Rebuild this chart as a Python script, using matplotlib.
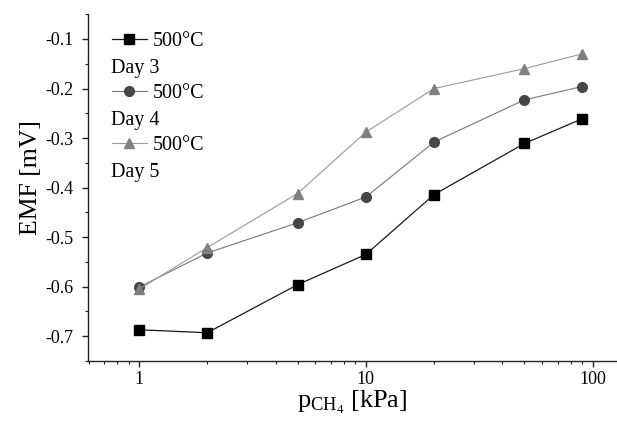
import matplotlib
matplotlib.use('Agg')
import matplotlib.pyplot as plt
from matplotlib.ticker import FixedLocator, FixedFormatter, LogLocator, NullFormatter, MultipleLocator

plt.rcParams['font.family'] = ['Liberation Serif', 'DejaVu Serif']
plt.rcParams['mathtext.fontset'] = 'custom'
plt.rcParams['mathtext.rm'] = 'Liberation Serif'
plt.rcParams['mathtext.it'] = 'Liberation Serif:italic'
plt.rcParams['axes.unicode_minus'] = False

# CH4 partial pressure [kPa]
p_ch4 = [1, 2, 5, 10, 20, 50, 90]

# EMF [mV] at 500 C on three days
emf_day3 = [-0.687, -0.693, -0.596, -0.535, -0.414, -0.311, -0.261]
emf_day4 = [-0.601, -0.532, -0.471, -0.419, -0.308, -0.223, -0.196]
emf_day5 = [-0.605, -0.521, -0.412, -0.288, -0.200, -0.160, -0.130]

labels = ['500°C', '500°C', '500°C']
days = ['Day 3', 'Day 4', 'Day 5']

fig = plt.figure(figsize=(6.17, 4.30), dpi=100)
ax = fig.add_axes([0.1426, 0.1605, 0.8574, 0.8065])

l1, = ax.plot(p_ch4, emf_day3, '-', color='#1a1a1a', lw=0.9, marker='s', ms=6.5,
              mfc='black', mec='black', label=labels[0])
l2, = ax.plot(p_ch4, emf_day4, '-', color='#777777', lw=0.8, marker='o', ms=7,
              mfc='#474747', mec='#474747', label=labels[1])
l3, = ax.plot(p_ch4, emf_day5, '-', color='#9a9a9a', lw=0.8, marker='^', ms=7.5,
              mfc='#808080', mec='#808080', label=labels[2])

ax.set_xscale('log')
ax.set_xlim(0.596, 128)
ax.set_ylim(-0.75, -0.05)

ax.xaxis.set_major_locator(FixedLocator([1, 10, 100]))
ax.xaxis.set_major_formatter(FixedFormatter(['1', '10', '100']))
ax.xaxis.set_minor_locator(LogLocator(base=10, subs=range(2, 10)))
ax.xaxis.set_minor_formatter(NullFormatter())
ax.yaxis.set_major_locator(FixedLocator([-0.7, -0.6, -0.5, -0.4, -0.3, -0.2, -0.1]))
ax.yaxis.set_major_formatter(FixedFormatter(['-0.7', '-0.6', '-0.5', '-0.4', '-0.3', '-0.2', '-0.1']))
ax.yaxis.set_minor_locator(MultipleLocator(0.05))

for s in ['top', 'right']:
    ax.spines[s].set_visible(False)
for s in ['left', 'bottom']:
    ax.spines[s].set_linewidth(1.0)
    ax.spines[s].set_color('#222222')

ax.tick_params(which='major', direction='out', length=4.5, width=1.0, labelsize=13, color='#222222')
ax.tick_params(axis='y', which='major', pad=6)
ax.tick_params(axis='x', which='major', pad=3)
ax.tick_params(which='minor', direction='out', length=2.5, width=0.8, color='#222222')

ax.set_ylabel('EMF [mV]', fontsize=18.5)
ax.yaxis.set_label_coords(-0.086, 0.53)
ax.set_xlabel(r'p$_{\mathregular{CH_4}}$ [kPa]', fontsize=19, labelpad=0)

leg = ax.legend(handles=[l1, l2, l3], loc='upper left', bbox_to_anchor=(0.045, 0.948),
                frameon=False, fontsize=14.5, labelspacing=1.62, handlelength=1.75,
                handletextpad=0.3, borderaxespad=0, borderpad=0)

# second line of each legend entry
for i, d in enumerate(days):
    ax.text(0.0435, 0.842 - i * 0.1499, d, transform=ax.transAxes, fontsize=14.5,
            ha='left', va='center')

fig.savefig('out.png', dpi=100)
